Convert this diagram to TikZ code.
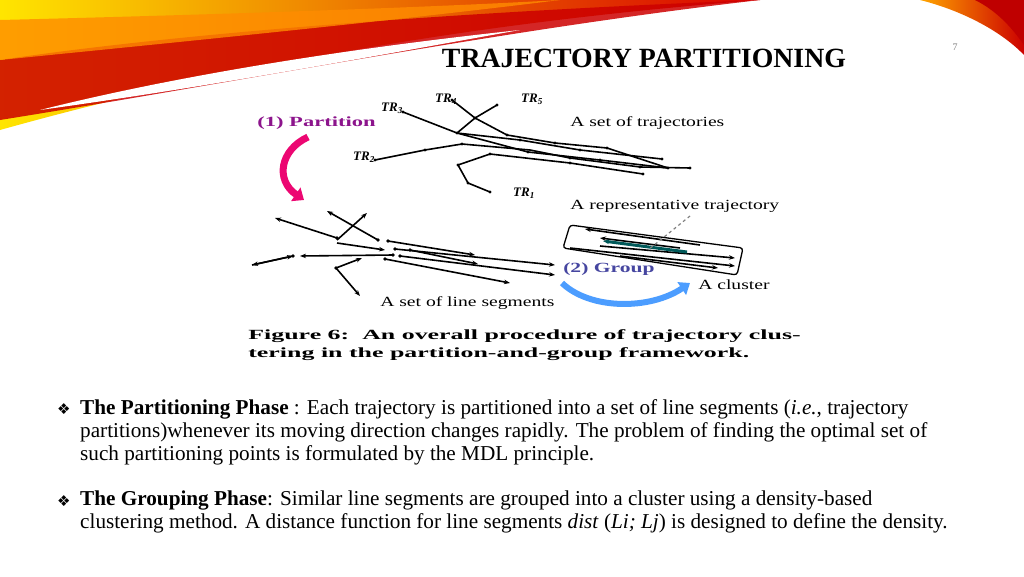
\documentclass[tikz,border=0pt]{standalone}
\usepackage{fontspec}
\setmainfont{Liberation Serif}
\newfontfamily\djv{DejaVu Sans}
\usetikzlibrary{arrows.meta}
\definecolor{magp}{RGB}{140,20,140}
\definecolor{grpb}{RGB}{70,70,160}
\tikzset{
 trj/.style={line width=1.6pt},
 seg/.style={line width=1.6pt,-{Stealth[length=6pt]}},
 dot/.style={circle,fill,inner sep=1.4pt},
 lbl/.style={font=\fontsize{14}{15}\selectfont,inner sep=0pt,anchor=west,xscale=1.4},
 trl/.style={font=\bfseries\itshape\fontsize{13}{14}\selectfont,inner sep=0pt},
 body/.style={font=\fontsize{21.2}{23}\selectfont,anchor=north west,inner sep=0pt,align=left}
}
\begin{document}
\begin{tikzpicture}[x=1pt,y=-1pt]
\useasboundingbox (0,0) rectangle (1024,576);
% decoration
\shade[left color=yellow!80!orange,right color=red!85!black] (0,0) -- (760,0) .. controls (500,20) and (250,60) .. (0,130) -- cycle;
\fill[red!80!black,opacity=.85] (0,60) .. controls (200,30) and (500,10) .. (760,0) .. controls (500,30) and (250,80) .. (0,120) -- cycle;
\fill[orange!90!yellow,opacity=.8] (0,20) .. controls (200,15) and (420,8) .. (560,0) .. controls (400,20) and (200,40) .. (0,60) -- cycle;
\fill[white] (40,110) .. controls (200,70) and (380,45) .. (520,30) .. controls (380,55) and (220,85) .. (40,110) -- cycle;
\shade[left color=orange!70!yellow,right color=red!80!black] (920,0) -- (1024,0) -- (1024,55) .. controls (1000,30) and (960,10) .. (920,0) -- cycle;
\fill[red!75!black] (975,0) -- (1024,0) -- (1024,45) .. controls (1010,25) and (995,10) .. (975,0) -- cycle;
% title
\node[font=\bfseries\fontsize{27.8}{30}\selectfont] (title) at (644,58) {TRAJECTORY PARTITIONING};
\node[font=\fontsize{10}{11}\selectfont,text=gray] (pg) at (955,47) {7};
% top trajectories
\draw[trj] (403,112) -- (457,133) -- (520,140) -- (580,150) -- (662,159);
\draw[trj] (452,100) -- (475,118) -- (507,135) -- (555,143) -- (607,148) -- (668,168);
\draw[trj] (497,105) -- (475,118) -- (457,133);
\draw[trj] (457,133) -- (528,152) -- (600,160) -- (668,168);
\draw[trj] (375,160) -- (425,150) -- (462,144) -- (530,150) -- (570,158) -- (640,167) -- (690,168);
\draw[trj] (490,192) -- (468,183) -- (458,165) -- (490,154) -- (570,163) -- (643,174);
\foreach \p in {(403,112),(457,133),(475,118),(452,100),(497,105),(507,135),(528,152),(520,140),(375,160),(425,150),(462,144),(570,158),(580,150),(607,148),(600,160),(490,192),(468,183),(458,165),(490,154),(570,163),(662,159),(668,168),(643,174),(690,168),(640,167),(555,143)}
  \node[dot,inner sep=1.2pt] at \p {};
\node[trl] (tr3) at (392,108) {TR\textsubscript{3}};
\node[trl] (tr4) at (446,99) {TR\textsubscript{4}};
\node[trl] (tr5) at (532,99) {TR\textsubscript{5}};
\node[trl] (tr2) at (364,157) {TR\textsubscript{2}};
\node[trl] (tr1) at (524,193) {TR\textsubscript{1}};
\node[lbl] (sot) at (570,123) {A set of trajectories};
\node[lbl,text=magp,font=\bfseries\fontsize{14}{15}\selectfont,xscale=1.15] (part) at (257,123) {(1) Partition};
% magenta arrow
\draw[line width=7pt,magenta!75!red,-{Triangle[length=10pt,width=16pt]}] (308,137) .. controls (280,150) and (275,180) .. (304,200);
% bottom segments
\draw[seg] (337,238) -- (275,218);
\draw[seg] (378,240) -- (327,211);
\draw[seg] (337,240) -- (367,213);
\draw[seg] (293,256) -- (252,265);
\draw[seg] (252,265) -- (293,256);
\draw[seg] (393,255) -- (300,256);
\draw[seg] (336,268) -- (360,296);
\draw[seg] (336,268) -- (362,258);
\draw[seg] (337,243) -- (385,250);
\draw[seg] (388,241) -- (475,255) ;
\draw[seg] (395,249) -- (555,265);
\draw[seg] (400,256) -- (555,275);
\draw[seg] (385,259) -- (510,283);
\draw[seg] (410,250) -- (478,264);
\foreach \p in {(337,238),(378,240),(336,268),(393,255),(388,241),(395,249),(400,256),(385,259),(410,250),(293,256)}
  \node[dot] at \p {};
\node[lbl] (sls) at (380,303) {A set of line segments};
% cluster
\draw[line width=1.3pt,rounded corners=3pt] (570,225) -- (743,248) -- (737,275) -- (563,248) -- cycle;
\draw[seg] (700,245) -- (585,229);
\draw[seg] (570,248) -- (735,266);
\draw[seg] (600,246) -- (735,258);
\draw[seg] (620,256) -- (718,268);
\draw[seg] (680,248) -- (600,238);
\draw[line width=3pt,teal!70!black,-{Stealth[length=6pt]}] (687,252) -- (603,241);
\draw[gray,dashed,line width=1.2pt] (690,216) -- (648,250);
\node[lbl] (rep) at (570,206) {A representative trajectory};
\node[lbl,text=grpb,font=\bfseries\fontsize{14}{15}\selectfont,xscale=1.1] (grp) at (563,269) {(2) Group};
\node[lbl] (clu) at (698,285) {A cluster};
\draw[line width=6pt,blue!55!cyan!70!white,-{Triangle[length=10pt,width=15pt]}] (562,283) .. controls (590,310) and (650,310) .. (690,283);
% caption
\node[anchor=north west,inner sep=0pt,align=left,font=\bfseries\fontsize{14}{18}\selectfont,xscale=1.85] (cap) at (248,329) {Figure 6:\ \ An overall procedure of trajectory clus-\\tering in the partition-and-group framework.};
% body text
\node[anchor=north west,inner sep=0pt,font=\djv\fontsize{15}{17}\selectfont] (b1) at (57,403) {❖};
\node[body] (t1) at (80,399) {\textbf{The Partitioning Phase} : Each trajectory is partitioned into a set of line segments (\textit{i.e.}, trajectory\\partitions)whenever its moving direction changes rapidly. The problem of finding the optimal set of\\such partitioning points is formulated by the MDL principle.};
\node[anchor=north west,inner sep=0pt,font=\djv\fontsize{15}{17}\selectfont] (b2) at (57,495) {❖};
\node[body] (t2) at (80,491) {\textbf{The Grouping Phase}: Similar line segments are grouped into a cluster using a density-based\\clustering method. A distance function for line segments \textit{dist} (\textit{Li; Lj}) is designed to define the density.};
\end{tikzpicture}
\end{document}
